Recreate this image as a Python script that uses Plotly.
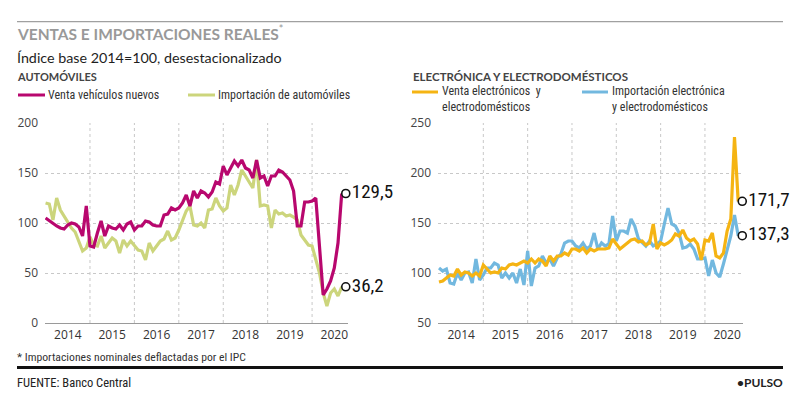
import plotly.graph_objects as go

# ---------------- DATA ----------------
years = ["2014", "2015", "2016", "2017", "2018", "2019", "2020"]

# Automóviles (monthly, Jan 2014 - Sep 2020)
venta_vehiculos = [105, 102, 99, 97, 95, 94, 98, 100, 99, 96, 87, 117,
                   77, 76, 90, 102, 87, 97, 95, 94, 98, 93, 99, 101,
                   93, 97, 97, 102, 101, 98, 97, 97, 108, 109, 115, 113,
                   115, 120, 128, 117, 132, 125, 132, 130, 126, 131, 141, 139,
                   157, 148, 155, 162, 157, 163, 155, 153, 145, 163, 145, 147,
                   137, 147, 147, 153, 151, 147, 143, 132, 97, 97, 121, 121,
                   122, 125, 77, 28, 34, 42, 55, 80, 129.5]
import_autos = [120, 119, 103, 125, 113, 107, 100, 95, 91, 82, 72, 75,
                86, 78, 77, 87, 75, 80, 85, 82, 70, 83, 77, 82,
                78, 73, 72, 63, 80, 72, 77, 82, 84, 92, 83, 85,
                93, 103, 112, 117, 98, 97, 100, 95, 113, 114, 125, 117,
                112, 115, 138, 128, 138, 153, 147, 142, 135, 163, 117, 118,
                117, 95, 113, 109, 110, 107, 108, 106, 103, 88, 83, 78,
                77, 63, 50, 30, 17, 30, 34, 27, 36.2]

# Electrónica y electrodomésticos (monthly, Jan 2014 - Oct 2020)
venta_electro = [91, 92, 95, 98, 97, 104, 98, 101, 100, 97, 100, 97,
                 108, 104, 100, 101, 100, 105, 104, 108, 109, 108, 110, 112,
                 110, 114, 110, 114, 112, 107, 117, 112, 117, 117, 120, 118,
                 124, 124, 122, 125, 120, 124, 122, 124, 124, 124, 125, 134,
                 129, 124, 127, 130, 133, 134, 131, 132, 128, 130, 149, 124,
                 130, 128, 130, 133, 139, 137, 143, 135, 132, 134, 129, 113,
                 133, 132, 140, 117, 115, 120, 142, 154, 236, 171.7]
import_electro = [105, 102, 104, 90, 89, 100, 93, 100, 101, 90, 114, 93,
                  98, 105, 105, 110, 108, 95, 100, 95, 100, 90, 104, 88,
                  122, 87, 105, 107, 117, 110, 114, 107, 115, 119, 130, 132,
                  132, 127, 125, 130, 124, 127, 140, 124, 130, 127, 129, 157,
                  132, 142, 142, 140, 154, 147, 134, 130, 127, 132, 127, 129,
                  132, 149, 165, 149, 147, 140, 125, 126, 129, 124, 114, 114,
                  115, 97, 113, 100, 96, 109, 124, 137, 158, 137.3]

label_auto = ["129,5", "36,2"]
label_electro = ["171,7", "137,3"]

# ---------------- STYLE ----------------
C_MAG = "#b8076e"
C_OLI = "#ccd57c"
C_ORA = "#f5b413"
C_BLU = "#72b8df"
GRID = "#c8c8c8"
BASE = "Lato, Open Sans, sans-serif"
TICK = "Open Sans, Lato, sans-serif"
COND = "Roboto Condensed, Liberation Sans Narrow, DejaVu Sans Condensed, Roboto, sans-serif"

# page body has an 8px default margin -> figure fills the rest of the window
OFF = 8
W, H = 800 - OFF, 399 - OFF


def px(x):
    return (x - OFF) / W


def py(y):
    return 1 - (y - OFF) / H


fig = go.Figure()


def add_series(vals, color, xa, ya):
    fig.add_trace(go.Scatter(x=list(range(len(vals))), y=vals, mode="lines",
                             line=dict(color=color, width=3.2),
                             xaxis=xa, yaxis=ya, showlegend=False, hoverinfo="skip"))


def add_end(vals, text, xa, ya):
    n = len(vals) - 1
    fig.add_trace(go.Scatter(x=[n + 1.1], y=[vals[-1]], mode="markers+text",
                             marker=dict(symbol="circle", size=8, color="white",
                                         line=dict(color="#111", width=1.6)),
                             text=[text], textposition="middle right",
                             textfont=dict(family=COND, size=19, color="#111"),
                             xaxis=xa, yaxis=ya, showlegend=False, cliponaxis=False,
                             hoverinfo="skip"))


add_series(import_autos, C_OLI, "x", "y")
add_series(venta_vehiculos, C_MAG, "x", "y")
add_series(import_electro, C_BLU, "x2", "y2")
add_series(venta_electro, C_ORA, "x2", "y2")
add_end(venta_vehiculos, label_auto[0], "x", "y")
add_end(import_autos, label_auto[1], "x", "y")
add_end(venta_electro, label_electro[0], "x2", "y2")
add_end(import_electro, label_electro[1], "x2", "y2")

ydom = [py(323), py(123)]
tickpos = [6 + 12 * i for i in range(len(years))]

xcommon = dict(tickmode="array", tickvals=tickpos, ticktext=years, showgrid=False,
               zeroline=False, showline=True, linecolor="#9a9a9a", linewidth=1.2,
               ticks="", tickfont=dict(family=TICK, size=12, color="#333"),
               automargin=False, fixedrange=True)
ycommon = dict(showgrid=True, gridcolor=GRID, griddash="dot", gridwidth=1,
               zeroline=False, showline=False, ticks="",
               tickfont=dict(family=TICK, size=12, color="#444"),
               ticklabelstandoff=6, automargin=False, fixedrange=True)

fig.update_layout(
    width=W, height=H, autosize=False,
    margin=dict(l=0, r=0, t=0, b=0, pad=0, autoexpand=False),
    paper_bgcolor="white", plot_bgcolor="white",
    xaxis=dict(domain=[px(45), px(348)], range=[-0.15, 81.7], anchor="y", **xcommon),
    yaxis=dict(domain=ydom, range=[0, 200], tickvals=[0, 50, 100, 150, 200], anchor="x", **ycommon),
    xaxis2=dict(domain=[px(438), px(743)], range=[-0.27, 82.3], anchor="y2", **xcommon),
    yaxis2=dict(domain=ydom, range=[50, 250], tickvals=[50, 100, 150, 200, 250], anchor="x2", **ycommon),
)

shapes = []
for k in range(1, len(years)):
    shapes.append(dict(type="line", xref="x", yref="y", x0=12 * k, x1=12 * k, y0=0, y1=200,
                       line=dict(color=GRID, width=1, dash="dot"), layer="below"))
    shapes.append(dict(type="line", xref="x2", yref="y2", x0=12 * k, x1=12 * k, y0=50, y1=250,
                       line=dict(color=GRID, width=1, dash="dot"), layer="below"))

shapes.append(dict(type="line", xref="paper", yref="paper", x0=px(17), x1=px(783),
                   y0=py(21.7), y1=py(21.7), line=dict(color="#a0a0a0", width=1.3)))
shapes.append(dict(type="line", xref="paper", yref="paper", x0=px(17), x1=px(783),
                   y0=py(367.5), y1=py(367.5), line=dict(color="#111", width=3.2)))
for (x0, x1, yy, col) in [(18, 45, 95, C_MAG), (188, 215, 95, C_OLI),
                          (412, 438, 92, C_ORA), (582, 608, 92, C_BLU)]:
    shapes.append(dict(type="line", xref="paper", yref="paper", x0=px(x0), x1=px(x1),
                       y0=py(yy), y1=py(yy), line=dict(color=col, width=3)))
fig.update_layout(shapes=shapes)

ann = []


def txt(x, y, s, size, color="#222", family=BASE, xanchor="left"):
    ann.append(dict(xref="paper", yref="paper", x=px(x), y=py(y), text=s, showarrow=False,
                    xanchor=xanchor, yanchor="middle", align="left",
                    font=dict(family=family, size=size, color=color)))


txt(15, 33, "<b>VENTAS E IMPORTACIONES REALES</b><sup>*</sup>", 15.5, "#999999")
txt(15, 57, "Índice base 2014=100, desestacionalizado", 14.3, "#1e1e1e")
txt(15, 76, "<b>AUTOMÓVILES</b>", 11, "#444")
txt(46, 95, "Venta vehículos nuevos", 12, "#333", COND)
txt(216, 95, "Importación de automóviles", 12, "#333", COND)
txt(411, 76, "<b>ELECTRÓNICA Y ELECTRODOMÉSTICOS</b>", 11.5, "#444")
txt(440, 99, "Venta electrónicos  y<br>electrodomésticos", 12, "#333", COND)
txt(610, 99, "Importación electrónica<br>y electrodomésticos", 12, "#333", COND)
txt(15, 357, "* Importaciones nominales deflactadas por el IPC", 11.7, "#333", COND)
txt(15, 382, "FUENTE: Banco Central", 12.5, "#222", COND)
txt(785, 382, "<b>•PULSO</b>", 12, "#222", BASE, xanchor="right")
fig.update_layout(annotations=ann)

fig.write_html("out.html")
